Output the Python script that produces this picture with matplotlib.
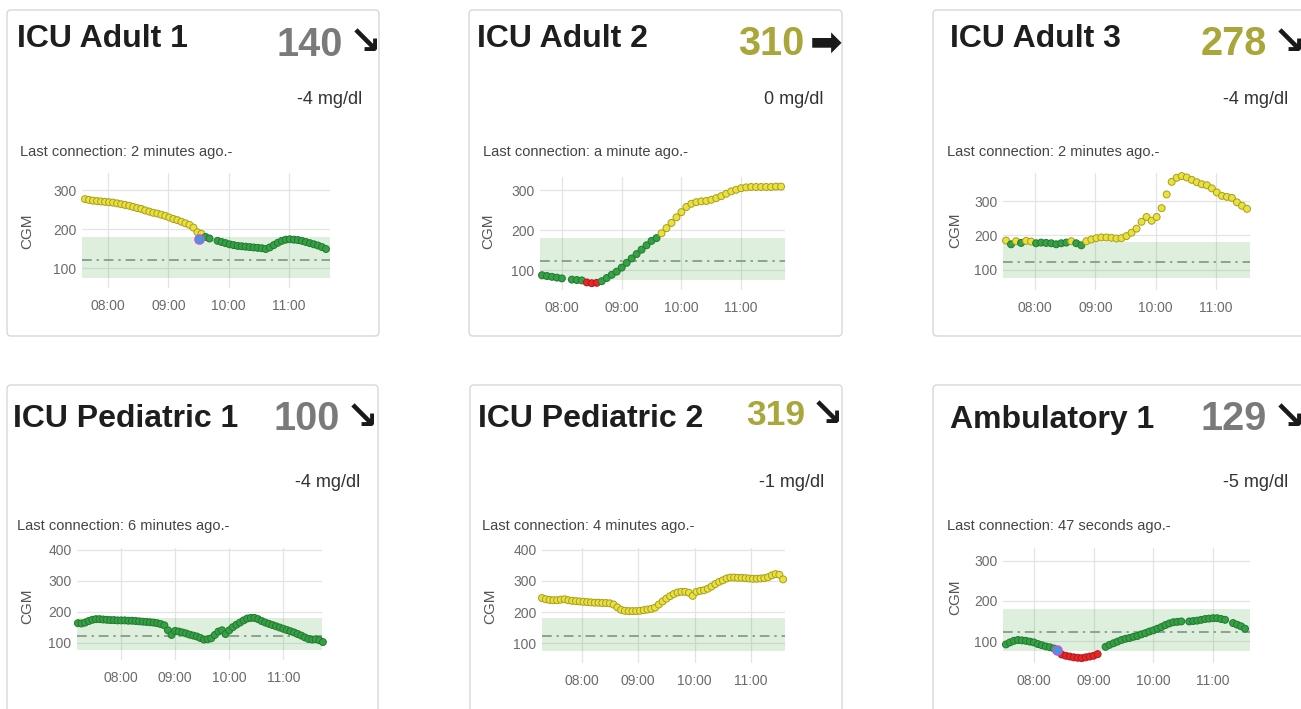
import matplotlib
matplotlib.use('Agg')
import matplotlib.pyplot as plt
from matplotlib.patches import FancyBboxPatch

plt.rcParams['font.family'] = ['Liberation Sans', 'DejaVu Sans']

W, H = 1301, 709

# ---------------- data ----------------
titles = ['ICU Adult 1', 'ICU Adult 2', 'ICU Adult 3',
          'ICU Pediatric 1', 'ICU Pediatric 2', 'Ambulatory 1']
current_values = [140, 310, 278, 100, 319, 129]
trend_arrows = ['↘', '➡', '↘', '↘', '↘', '↘']
deltas = ['-4 mg/dl', '0 mg/dl', '-4 mg/dl', '-4 mg/dl', '-1 mg/dl', '-5 mg/dl']
last_connection = ['2 minutes ago', 'a minute ago', '2 minutes ago',
                   '6 minutes ago', '4 minutes ago', '47 seconds ago']
x_tick_labels = ['08:00', '09:00', '10:00', '11:00']
y_tick_values = [[100, 200, 300], [100, 200, 300], [100, 200, 300],
                 [100, 200, 300, 400], [100, 200, 300, 400], [100, 200, 300]]
target_low, target_high = 75, 180
target_value = 122
hypo_limit, hyper_limit = 70, 180

start_times = ['07:37', '07:40', '07:31', '07:12', '07:18', '07:32']
sample_minutes = [4, 5, 5, 4, 4, 4]

cgm_adult1 = [277, 275, 273, 272, 271, 270, 269, 268, 266, 264,
              262, 260, 257, 254, 252, 248, 245, 242, 240, 237,
              234, 230, 226, 223, 219, 215, 211, 204, 192, 188,
              180, 176, None, 170, 167, 164, 161, 159, 157, 156,
              155, 154, 153, 152, 151, 149, 153, 159, 165, 170,
              173, 174, 173, 172, 170, 167, 164, 161, 158, 154, 149]
cgm_adult2 = [87, 85, 83, 81, 79, None, 76, 75, 74, 69,
              67, 68, 72, 80, 88, 96, 106, 118, 129, 140,
              151, 162, 173, 180, 192, 205, 218, 232, 245, 258,
              266, 270, 272, 273, 276, 280, 285, 291, 297, 301,
              305, 307, 308, 308, 308, 308, 308, 309, 309]
cgm_adult3 = [185, 174, 183, 178, 184, 182, 177, 179, 178, 177,
              174, 177, 179, 183, 177, 171, 183, 188, 192, 194,
              194, 193, 191, 192, 198, 208, 220, 240, 254, 243,
              254, 280, 320, 357, 369, 374, 370, 363, 356, 350,
              347, 338, 326, 316, 313, 310, 297, 287, 278]
cgm_ped1 = [163, 162, 165, 170, 174, 176, 176, 175, 174, 173,
            173, 172, 172, 172, 171, 171, 170, 169, 168, 167,
            166, 165, 163, 160, 156, 140, 125, 138, 136, 133,
            130, 126, 123, 120, 115, 110, 111, 114, 125, 136,
            140, 128, 140, 150, 158, 165, 172, 178, 180, 180,
            176, 170, 165, 161, 157, 153, 149, 145, 141, 137,
            133, 128, 123, 117, 112, 110, 111, 108, 102]
cgm_ped2 = [245, 241, 239, 238, 238, 240, 241, 238, 236, 235,
            234, 233, 232, 231, 230, 230, 229, 229, 228, 224,
            215, 207, 204, 203, 203, 203, 204, 206, 208, 210,
            214, 224, 234, 243, 251, 258, 263, 265, 265, 262,
            252, 265, 268, 270, 275, 282, 290, 297, 302, 308,
            311, 311, 310, 310, 309, 308, 307, 307, 308, 309,
            312, 318, 322, 320, 305]
cgm_amb1 = [92, 97, 101, 103, 102, 101, 99, 97, 93, 90,
            87, 85, 82, None, 67, 64, 62, 60, 59, 58,
            60, 62, 64, 68, None, 86, 91, 95, 99, 103,
            106, 108, 111, 113, 117, 120, 124, 127, 131, 135,
            140, 144, 147, 148, 149, None, 149, 150, 151, 153,
            155, 156, 157, 157, 155, 153, None, 145, 141, 137, 131]
cgm_series = [cgm_adult1, cgm_adult2, cgm_adult3, cgm_ped1, cgm_ped2, cgm_amb1]

event_times = ['09:31', None, None, None, None, '08:23']
event_values = [175, None, None, None, None, 79]

# ---------------- layout (pixels) ----------------
card_rects = [(7, 10, 372, 326), (469, 10, 373, 326), (933, 10, 380, 326),
              (7, 385, 371, 340), (470, 385, 372, 340), (933, 385, 380, 340)]
plot_rects = [(82, 173, 248, 115), (540, 177, 245, 113), (1003, 173, 247, 117),
              (77, 548, 245, 112), (542, 548, 243, 115), (1003, 548, 247, 115)]
x_windows = [('07:34', '11:41'), ('07:38', '11:44'), ('07:28', '11:34'),
             ('07:11', '11:43'), ('07:18', '11:36'), ('07:29', '11:37')]
y_windows = [(49, 344), (50, 333), (40, 383), (44, 406), (36, 406), (46, 331)]
title_pos = [(17, 47), (477, 47), (950, 47), (13, 427), (478, 427), (950, 428)]
value_pos = [(343, 56), (804, 55), (1267, 55), (340, 430), (805, 425), (1267, 430)]
value_size = [28.5, 28.5, 28.5, 28.5, 25.5, 28.5]
arrow_y = [43, 44, 43, 418, 415, 418]
delta_pos = [(362, 104), (823, 104), (1288, 104), (360, 487), (824, 487), (1288, 487)]
conn_pos = [(20, 156), (483, 156), (947, 156), (17, 530), (482, 530), (947, 530)]
cgm_label_pos = [(27, 231), (488, 231), (955, 230), (27, 606), (490, 606), (955, 597)]

YELLOW_FACE, YELLOW_EDGE = '#e9e23c', '#a89c22'
GREEN_FACE, GREEN_EDGE = '#36a046', '#217a2e'
RED_FACE, RED_EDGE = '#e8262a', '#b01a1a'


def to_min(s):
    h, m = s.split(':')
    return int(h) * 60 + int(m)


fig = plt.figure(figsize=(W / 100, H / 100), dpi=100, facecolor='white')
bg = fig.add_axes([0, 0, 1, 1])
bg.set_xlim(0, W)
bg.set_ylim(H, 0)
bg.axis('off')

for k in range(6):
    cx, cy, cw, ch = card_rects[k]
    bg.add_patch(FancyBboxPatch((cx, cy), cw, ch,
                                boxstyle='round,pad=0,rounding_size=4',
                                fc='white', ec='#d7d7d7', lw=1.0))
    tx, ty = title_pos[k]
    bg.text(tx, ty, titles[k], fontsize=23, fontweight='bold', color='#1e1e1e',
            ha='left', va='baseline')
    vx, vy = value_pos[k]
    vcol = '#a9a63a' if current_values[k] > hyper_limit else '#7a7a7a'
    bg.text(vx, vy, str(current_values[k]), fontsize=value_size[k],
            fontweight='bold', color=vcol, ha='right', va='baseline')
    bg.text(vx + 6, arrow_y[k], trend_arrows[k], fontsize=28, fontweight='bold',
            color='#1a1a1a', ha='left', va='center', family='DejaVu Sans')
    dx, dy = delta_pos[k]
    bg.text(dx, dy, deltas[k], fontsize=13, color='#333333', ha='right', va='baseline')
    lx, ly = conn_pos[k]
    bg.text(lx, ly, 'Last connection: ' + last_connection[k] + '.-', fontsize=10.5,
            color='#444444', ha='left', va='baseline')
    gx, gy = cgm_label_pos[k]
    bg.text(gx, gy, 'CGM', fontsize=11, color='#555555', rotation=90,
            ha='center', va='center')

    # plot area
    px, py, pw, ph = plot_rects[k]
    ax = fig.add_axes([px / W, 1 - (py + ph) / H, pw / W, ph / H])
    ax.set_facecolor('white')
    for sp in ax.spines.values():
        sp.set_visible(False)
    ax.grid(True, color='#e4e4e4', lw=0.9)
    ax.set_axisbelow(True)
    ax.axhspan(target_low, target_high, color='#4caa46', alpha=0.18, lw=0, zorder=1)
    ax.axhline(target_value, color='#8aa290', lw=1.4, dashes=(5, 2.5, 1.2, 2.5), zorder=2)

    t0 = to_min(start_times[k])
    xs, ys, fcs, ecs = [], [], [], []
    for i, v in enumerate(cgm_series[k]):
        if v is None:
            continue
        xs.append(t0 + sample_minutes[k] * i)
        ys.append(v)
        if v < hypo_limit:
            fcs.append(RED_FACE); ecs.append(RED_EDGE)
        elif v > hyper_limit:
            fcs.append(YELLOW_FACE); ecs.append(YELLOW_EDGE)
        else:
            fcs.append(GREEN_FACE); ecs.append(GREEN_EDGE)
    ax.scatter(xs, ys, s=25, c=fcs, edgecolors=ecs, linewidths=0.7, zorder=3,
               clip_on=False)
    if event_times[k] is not None:
        ax.scatter([to_min(event_times[k])], [event_values[k]], s=40, c='#3d9be0',
                   edgecolors='#b05fd8', linewidths=1.3, zorder=4, clip_on=False)

    ax.set_xlim(to_min(x_windows[k][0]), to_min(x_windows[k][1]))
    ax.set_ylim(*y_windows[k])
    ax.set_xticks([to_min(t) for t in x_tick_labels])
    ax.set_xticklabels(x_tick_labels)
    ax.set_yticks(y_tick_values[k])
    ax.tick_params(axis='both', length=0, labelsize=10, labelcolor='#6b6b6b')
    ax.tick_params(axis='x', pad=8)
    ax.tick_params(axis='y', pad=4)

fig.savefig('out.png', dpi=100, facecolor='white')
